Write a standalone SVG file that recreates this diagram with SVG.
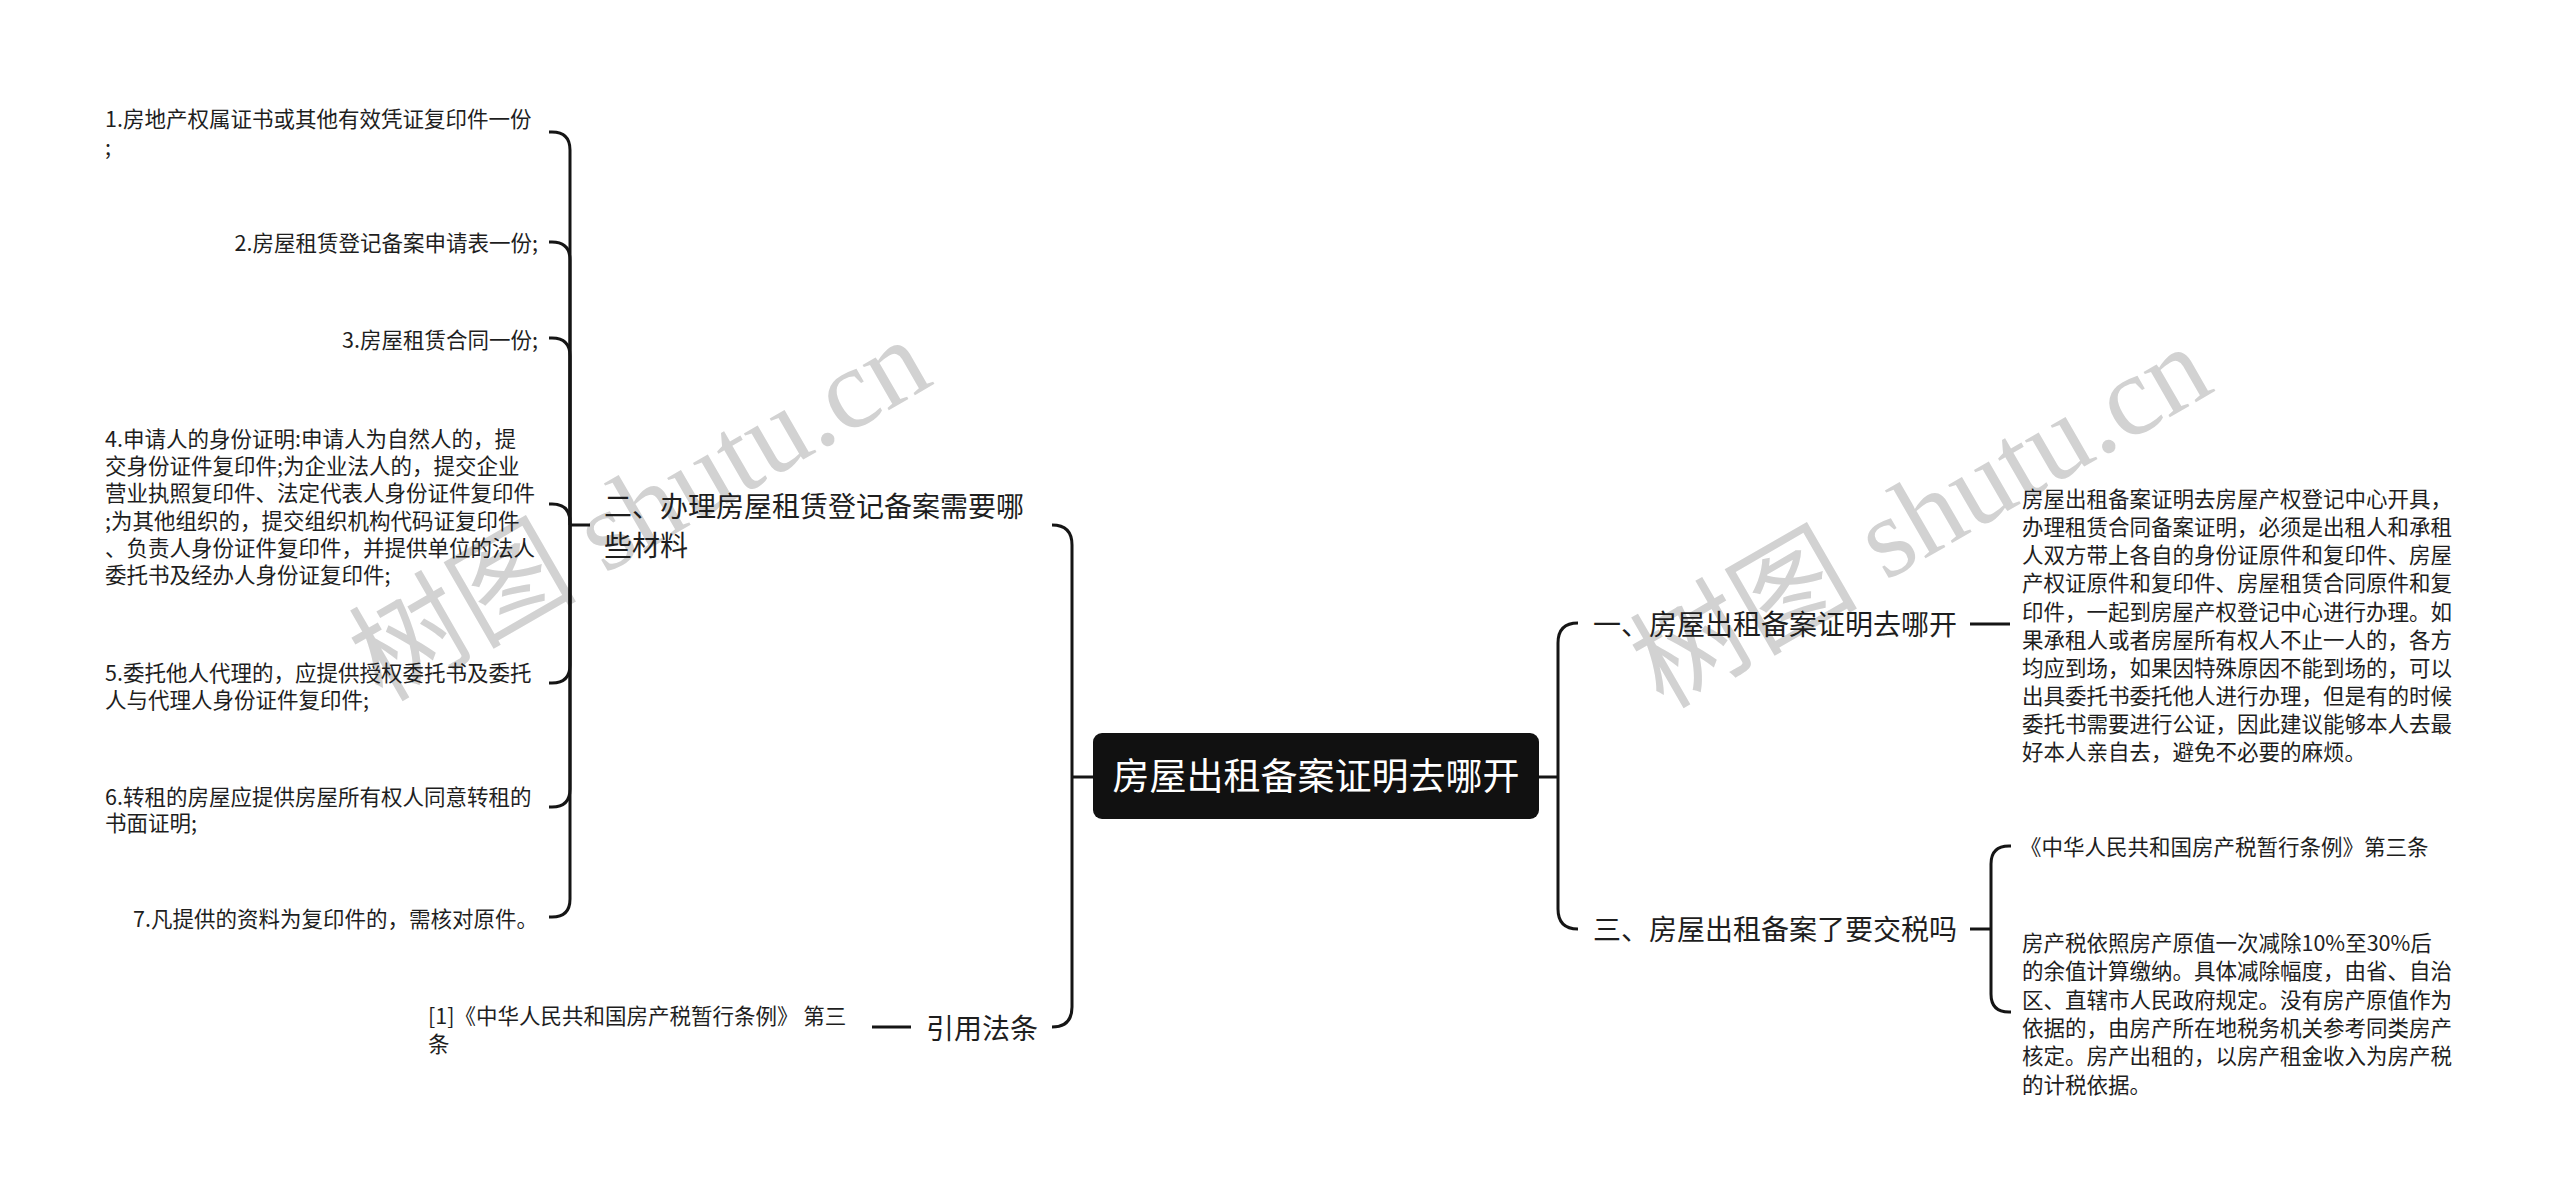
<svg xmlns="http://www.w3.org/2000/svg" width="2560" height="1200" viewBox="0 0 2560 1200">
<style>
  .t { font-family: "Noto Sans CJK SC", "Noto Sans", sans-serif; fill: #1e1e1e; }
  .leaf { font-size: 21.5px; }
  .main { font-size: 28px; }
  .root { font-size: 37px; fill: #ffffff; }
  .wm { font-family: "Liberation Serif", "Noto Sans CJK SC", serif; font-size: 114px; fill: #d2d2d2; }
  .ln { fill: none; stroke: #151515; stroke-width: 3; stroke-linecap: butt; }
</style>
<rect width="2560" height="1200" fill="#ffffff"/>

<g id="watermarks">
  <text class="wm" x="640" y="548" text-anchor="middle" transform="rotate(-30 640 510)">树图 shutu.cn</text>
  <text class="wm" x="1921" y="555" text-anchor="middle" transform="rotate(-30 1921 517)">树图 shutu.cn</text>
</g>

<g id="connectors">
  <!-- root to left branches -->
  <path class="ln" d="M1093,777 L1072,777"/>
  <path class="ln" d="M1072,777 L1072,545 Q1072,525 1052,525"/>
  <path class="ln" d="M1072,777 L1072,1007 Q1072,1027 1052,1027"/>
  <!-- root to right branches -->
  <path class="ln" d="M1539,777 L1558,777"/>
  <path class="ln" d="M1558,777 L1558,643 Q1558,623 1578,623"/>
  <path class="ln" d="M1558,777 L1558,909 Q1558,929 1578,929"/>
  <!-- branch 二 to its children -->
  <path class="ln" d="M590,525 L570,525"/>
  <path class="ln" d="M570,525 L570,150 Q570,132 552,132 L549,132"/>
  <path class="ln" d="M570,525 L570,260 Q570,242 552,242 L549,242"/>
  <path class="ln" d="M570,525 L570,356 Q570,338 552,338 L549,338"/>
  <path class="ln" d="M570,525 L570,522 Q570,504 552,504 L549,504"/>
  <path class="ln" d="M570,525 L570,665 Q570,683 552,683 L549,683"/>
  <path class="ln" d="M570,525 L570,789 Q570,807 552,807 L549,807"/>
  <path class="ln" d="M570,525 L570,899 Q570,917 552,917 L549,917"/>
  <!-- 引用法条 to child -->
  <path class="ln" d="M911,1027 L872,1027"/>
  <!-- branch 一 to child -->
  <path class="ln" d="M1970,624 L2010,624"/>
  <!-- branch 三 to children -->
  <path class="ln" d="M1970,929 L1991,929"/>
  <path class="ln" d="M1991,929 L1991,864 Q1991,846 2009,846 L2011,846"/>
  <path class="ln" d="M1991,929 L1991,994 Q1991,1012 2009,1012 L2011,1012"/>
</g>

<g id="root">
  <rect x="1093" y="733" width="446" height="86" rx="9" fill="#111111"/>
  <text class="t root" x="1316" y="790" text-anchor="middle">房屋出租备案证明去哪开</text>
</g>

<g id="branch-2">
  <text class="t main" x="604" y="517">二、办理房屋租赁登记备案需要哪</text>
  <text class="t main" x="604" y="556">些材料</text>
</g>

<g id="item-1">
  <text class="t leaf" x="105" y="127">1.房地产权属证书或其他有效凭证复印件一份</text>
  <text class="t leaf" x="105" y="155">;</text>
</g>
<g id="item-2">
  <text class="t leaf" x="538" y="251" text-anchor="end">2.房屋租赁登记备案申请表一份;</text>
</g>
<g id="item-3">
  <text class="t leaf" x="538" y="348" text-anchor="end">3.房屋租赁合同一份;</text>
</g>
<g id="item-4">
  <text class="t leaf" x="105" y="446.5">4.申请人的身份证明:申请人为自然人的，提</text>
  <text class="t leaf" x="105" y="474">交身份证件复印件;为企业法人的，提交企业</text>
  <text class="t leaf" x="105" y="501">营业执照复印件、法定代表人身份证件复印件</text>
  <text class="t leaf" x="105" y="528.5">;为其他组织的，提交组织机构代码证复印件</text>
  <text class="t leaf" x="105" y="556">、负责人身份证件复印件，并提供单位的法人</text>
  <text class="t leaf" x="105" y="583">委托书及经办人身份证复印件;</text>
</g>
<g id="item-5">
  <text class="t leaf" x="105" y="681">5.委托他人代理的，应提供授权委托书及委托</text>
  <text class="t leaf" x="105" y="708">人与代理人身份证件复印件;</text>
</g>
<g id="item-6">
  <text class="t leaf" x="105" y="805">6.转租的房屋应提供房屋所有权人同意转租的</text>
  <text class="t leaf" x="105" y="831">书面证明;</text>
</g>
<g id="item-7">
  <text class="t leaf" x="538" y="927" text-anchor="end">7.凡提供的资料为复印件的，需核对原件。</text>
</g>

<g id="branch-cite">
  <text class="t main" x="982" y="1039" text-anchor="middle">引用法条</text>
</g>
<g id="cite-1">
  <text class="t leaf" x="428" y="1024">[1]《中华人民共和国房产税暂行条例》 第三</text>
  <text class="t leaf" x="428" y="1052">条</text>
</g>

<g id="branch-1">
  <text class="t main" x="1593" y="635">一、房屋出租备案证明去哪开</text>
</g>
<g id="branch-1-text">
  <text class="t leaf" x="2022" y="507">房屋出租备案证明去房屋产权登记中心开具，</text>
  <text class="t leaf" x="2022" y="535">办理租赁合同备案证明，必须是出租人和承租</text>
  <text class="t leaf" x="2022" y="563">人双方带上各自的身份证原件和复印件、房屋</text>
  <text class="t leaf" x="2022" y="591">产权证原件和复印件、房屋租赁合同原件和复</text>
  <text class="t leaf" x="2022" y="619.5">印件，一起到房屋产权登记中心进行办理。如</text>
  <text class="t leaf" x="2022" y="647.5">果承租人或者房屋所有权人不止一人的，各方</text>
  <text class="t leaf" x="2022" y="675.5">均应到场，如果因特殊原因不能到场的，可以</text>
  <text class="t leaf" x="2022" y="704">出具委托书委托他人进行办理，但是有的时候</text>
  <text class="t leaf" x="2022" y="732">委托书需要进行公证，因此建议能够本人去最</text>
  <text class="t leaf" x="2022" y="760">好本人亲自去，避免不必要的麻烦。</text>
</g>

<g id="branch-3">
  <text class="t main" x="1593" y="940">三、房屋出租备案了要交税吗</text>
</g>
<g id="branch-3-law">
  <text class="t leaf" x="2020" y="855">《中华人民共和国房产税暂行条例》第三条</text>
</g>
<g id="branch-3-text">
  <text class="t leaf" x="2022" y="951">房产税依照房产原值一次减除10%至30%后</text>
  <text class="t leaf" x="2022" y="979">的余值计算缴纳。具体减除幅度，由省、自治</text>
  <text class="t leaf" x="2022" y="1007.5">区、直辖市人民政府规定。没有房产原值作为</text>
  <text class="t leaf" x="2022" y="1036">依据的，由房产所在地税务机关参考同类房产</text>
  <text class="t leaf" x="2022" y="1064">核定。房产出租的，以房产租金收入为房产税</text>
  <text class="t leaf" x="2022" y="1092.5">的计税依据。</text>
</g>
</svg>
